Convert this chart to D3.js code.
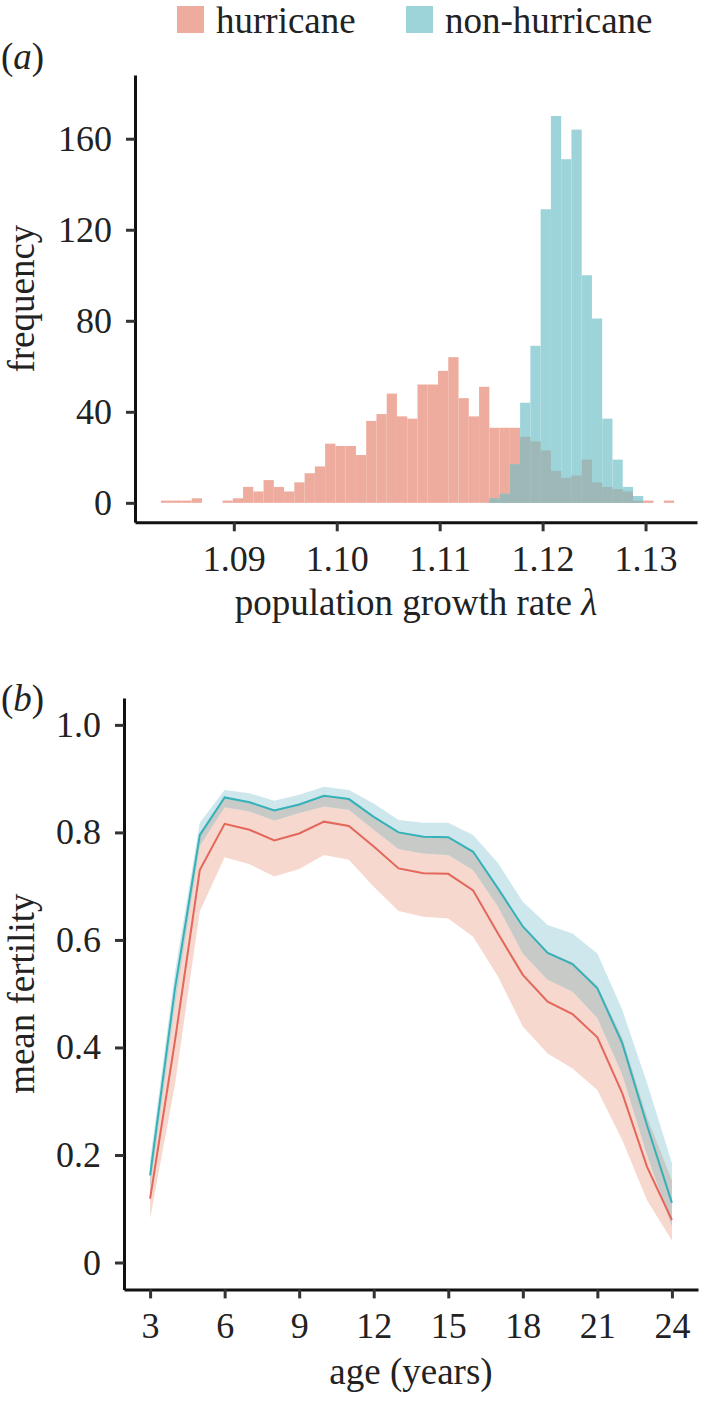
<!DOCTYPE html>
<html><head><meta charset="utf-8">
<script src="https://cdn.jsdelivr.net/npm/d3@7"></script>
<style>html,body{margin:0;padding:0;background:#fff}</style>
</head><body>
<svg id="c" width="708" height="1406" xmlns="http://www.w3.org/2000/svg"></svg>
<script>
// ---------- data: panel (a) histogram ----------
const binStart = 1.08292;
const binWidth = 0.000997;
const hurricaneCounts = [1,1,1,2,0,0,1,2,7,5,10,7,5,9,13,16,26,25,25,21,36,39,48,38,37,52,52,58,64,46,38,51,33,33,33,29,27,23,14,11,12,19,9,7,6,5,1,1,0,1];
const nonHurricaneCounts = [0,0,0,0,0,0,0,0,0,0,0,0,0,0,0,0,0,0,0,0,0,0,0,0,0,0,0,0,0,0,0,0,2,4,17,44,69,129,170,151,164,100,81,37,19,7,3,0,0,0];
const lambdaTicks = [1.09, 1.10, 1.11, 1.12, 1.13];
const freqTicks = [0, 40, 80, 120, 160];
const seriesNames = ["hurricane", "non-hurricane"];

// ---------- data: panel (b) fertility ----------
const ages = [3,4,5,6,7,8,9,10,11,12,13,14,15,16,17,18,19,20,21,22,23,24];
const nonHurMean = [0.162,0.509,0.795,0.865,0.856,0.841,0.852,0.868,0.862,0.829,0.800,0.792,0.791,0.764,0.696,0.625,0.576,0.555,0.510,0.408,0.255,0.111];
const nonHurHigh = [0.19,0.54,0.818,0.879,0.873,0.859,0.870,0.885,0.879,0.854,0.823,0.818,0.818,0.795,0.743,0.671,0.628,0.612,0.575,0.470,0.334,0.185];
const nonHurLow  = [0.14,0.48,0.775,0.847,0.839,0.822,0.836,0.848,0.842,0.805,0.769,0.761,0.758,0.730,0.662,0.575,0.526,0.504,0.455,0.350,0.200,0.067];
const hurMean = [0.119,0.412,0.730,0.816,0.805,0.785,0.798,0.820,0.812,0.774,0.733,0.724,0.723,0.692,0.612,0.535,0.485,0.462,0.419,0.315,0.178,0.079];
const hurHigh = [0.155,0.49,0.80,0.866,0.857,0.842,0.853,0.869,0.863,0.830,0.801,0.793,0.792,0.765,0.697,0.626,0.578,0.558,0.515,0.418,0.27,0.153];
const hurLow  = [0.082,0.33,0.653,0.754,0.741,0.718,0.732,0.758,0.749,0.699,0.654,0.643,0.640,0.606,0.532,0.439,0.389,0.361,0.321,0.228,0.116,0.041];
const ageTicks = [3,6,9,12,15,18,21,24];
const fertTicks = [0,0.2,0.4,0.6,0.8,1.0];

// ---------- styles ----------
const FONT = "'Liberation Serif','Times New Roman',serif";
const colRedBar = "#eeac9e", colTealBar = "#9dd4d9", colOverlapBar = "#9db8b6";
const colRedLine = "#e4675b", colTealLine = "#35b1b9";
const colRedBand = "#f6d8ce", colTealBand = "#cde7ec", colOverlapBand = "#c8cac7";

const svg = d3.select("#c");

function styleAxis(g){
  g.select(".domain").attr("stroke","#111").attr("stroke-width",3);
  g.selectAll(".tick line").attr("stroke","#333").attr("stroke-width",3);
  g.selectAll(".tick text").attr("font-family",FONT).attr("font-size",36).attr("fill","#222");
}

// ---------- legend ----------
const leg = svg.append("g");
const legItems = [
  {name: seriesNames[0], col: colRedBar, x: 177},
  {name: seriesNames[1], col: colTealBar, x: 406}
];
legItems.forEach(d => {
  leg.append("rect").attr("x", d.x).attr("y", 6).attr("width", 27).attr("height", 27).attr("fill", d.col);
  leg.append("text").attr("x", d.x + 39).attr("y", 33).attr("font-family", FONT).attr("font-size", 37).attr("fill","#222").text(d.name);
});

// ---------- panel (a) ----------
const xa = d3.scaleLinear().domain([1.0804, 1.1350]).range([135, 697]);
const ya = d3.scaleLinear().domain([-8.55, 188]).range([522.3, 75]);
const pa = svg.append("g");

const bins = hurricaneCounts.map((h, i) => ({
  x0: binStart + i*binWidth, x1: binStart + (i+1)*binWidth,
  h: h, n: nonHurricaneCounts[i]
}));
pa.append("g").selectAll("rect").data(bins.filter(b => b.h > 0)).join("rect")
  .attr("x", b => xa(b.x0)).attr("width", b => xa(b.x1) - xa(b.x0))
  .attr("y", b => ya(b.h)).attr("height", b => ya(0) - ya(b.h)).attr("fill", colRedBar);
pa.append("g").selectAll("rect").data(bins.filter(b => b.n > 0)).join("rect")
  .attr("x", b => xa(b.x0)).attr("width", b => xa(b.x1) - xa(b.x0))
  .attr("y", b => ya(b.n)).attr("height", b => ya(0) - ya(b.n)).attr("fill", colTealBar);
pa.append("g").selectAll("rect").data(bins.filter(b => b.n > 0 && b.h > 0)).join("rect")
  .attr("x", b => xa(b.x0)).attr("width", b => xa(b.x1) - xa(b.x0))
  .attr("y", b => ya(Math.min(b.h, b.n))).attr("height", b => ya(0) - ya(Math.min(b.h, b.n))).attr("fill", colOverlapBar);

const axA_y = pa.append("g").attr("transform","translate(135,0)")
  .call(d3.axisLeft(ya).tickValues(freqTicks).tickSize(9).tickSizeOuter(0).tickPadding(14).tickFormat(d3.format("d")));
styleAxis(axA_y);
const axA_x = pa.append("g").attr("transform","translate(0,522.3)")
  .call(d3.axisBottom(xa).tickValues(lambdaTicks).tickSize(9).tickSizeOuter(0).tickPadding(14).tickFormat(d3.format(".2f")));
styleAxis(axA_x);

const tA = pa.append("text").attr("x", (135+697)/2).attr("y", 615).attr("text-anchor","middle")
  .attr("font-family",FONT).attr("font-size",37).attr("fill","#222");
tA.append("tspan").text("population growth rate ");
tA.append("tspan").attr("font-style","italic").text("λ");

pa.append("text").attr("transform",`translate(34,${(75+522.3)/2}) rotate(-90)`).attr("text-anchor","middle")
  .attr("font-family",FONT).attr("font-size",37).attr("fill","#222").text("frequency");

const labA = pa.append("text").attr("x",1).attr("y",69).attr("font-family",FONT).attr("font-size",37).attr("fill","#222");
labA.append("tspan").text("(");
labA.append("tspan").attr("font-style","italic").text("a");
labA.append("tspan").text(")");

// ---------- panel (b) ----------
const xb = d3.scaleLinear().domain([1.95, 25.05]).range([124, 698]);
const yb = d3.scaleLinear().domain([-0.05, 1.05]).range([1289.4, 698]);
const pb = svg.append("g");

const rows = ages.map((a, i) => ({
  age: a, hm: hurMean[i], hh: hurHigh[i], hl: hurLow[i],
  nm: nonHurMean[i], nh: nonHurHigh[i], nl: nonHurLow[i]
}));

pb.append("path").datum(rows).attr("fill", colRedBand)
  .attr("d", d3.area().x(d => xb(d.age)).y0(d => yb(d.hl)).y1(d => yb(d.hh)));
pb.append("path").datum(rows).attr("fill", colTealBand)
  .attr("d", d3.area().x(d => xb(d.age)).y0(d => yb(d.nl)).y1(d => yb(d.nh)));
pb.append("path").datum(rows).attr("fill", colOverlapBand)
  .attr("d", d3.area().x(d => xb(d.age))
    .y0(d => yb(Math.max(d.nl, d.hl)))
    .y1(d => yb(Math.max(Math.max(d.nl, d.hl), Math.min(d.nh, d.hh)))));

pb.append("path").datum(rows).attr("fill","none").attr("stroke", colRedLine).attr("stroke-width", 2)
  .attr("d", d3.line().x(d => xb(d.age)).y(d => yb(d.hm)));
pb.append("path").datum(rows).attr("fill","none").attr("stroke", colTealLine).attr("stroke-width", 2)
  .attr("d", d3.line().x(d => xb(d.age)).y(d => yb(d.nm)));

const axB_y = pb.append("g").attr("transform","translate(124,0)")
  .call(d3.axisLeft(yb).tickValues(fertTicks).tickSize(9).tickSizeOuter(0).tickPadding(14)
    .tickFormat(v => v === 0 ? "0" : d3.format(".1f")(v)));
styleAxis(axB_y);
const axB_x = pb.append("g").attr("transform","translate(0,1289.4)")
  .call(d3.axisBottom(xb).tickValues(ageTicks).tickSize(9).tickSizeOuter(0).tickPadding(14).tickFormat(d3.format("d")));
styleAxis(axB_x);

pb.append("text").attr("x", (124+698)/2).attr("y", 1384).attr("text-anchor","middle")
  .attr("font-family",FONT).attr("font-size",37).attr("fill","#222").text("age (years)");
pb.append("text").attr("transform",`translate(34,${(698+1289.4)/2}) rotate(-90)`).attr("text-anchor","middle")
  .attr("font-family",FONT).attr("font-size",37).attr("fill","#222").text("mean fertility");

const labB = pb.append("text").attr("x",1).attr("y",711).attr("font-family",FONT).attr("font-size",37).attr("fill","#222");
labB.append("tspan").text("(");
labB.append("tspan").attr("font-style","italic").text("b");
labB.append("tspan").text(")");
</script>
</body></html>
